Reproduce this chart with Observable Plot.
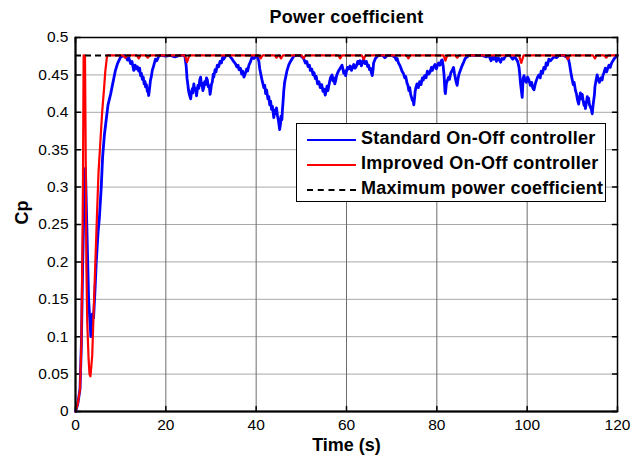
<!DOCTYPE html>
<html>
<head>
<meta charset="utf-8">
<script src="https://cdn.jsdelivr.net/npm/d3@7"></script>
<script src="https://cdn.jsdelivr.net/npm/@observablehq/plot@0.6"></script>
<style>
  html, body { margin: 0; padding: 0; background: #fff; }
  #wrap { position: relative; width: 643px; height: 463px; font-family: "Liberation Sans", Arial, sans-serif; }
  #legend { position: absolute; left: 296px; top: 123px; width: 308px; height: 77px; border: 1.5px solid #000; background: #fff; }
  .row { position: absolute; left: 0; height: 25px; width: 100%; }
  .sw { position: absolute; left: 10px; width: 49px; top: 12px; height: 0; }
  .lab { position: absolute; left: 64px; top: 1px; font-weight: bold; font-size: 18px; letter-spacing: 0.25px; line-height: 21px; white-space: nowrap; color: #000; }
</style>
</head>
<body>
<div id="wrap"></div>
<script>
const title = "Power coefficient";
const xLabel = "Time (s)";
const yLabel = "Cp";
const seriesNames = ["Standard On-Off controller", "Improved On-Off controller", "Maximum power coefficient"];
const seriesColors = ["#0000ff", "#ff0000", "#000000"];

const xTicks = [0, 20, 40, 60, 80, 100, 120];
const xTickLabels = ["0", "20", "40", "60", "80", "100", "120"];
const yTicks = [0, 0.05, 0.1, 0.15, 0.2, 0.25, 0.3, 0.35, 0.4, 0.45, 0.5];
const yTickLabels = ["0", "0.05", "0.1", "0.15", "0.2", "0.25", "0.3", "0.35", "0.4", "0.45", "0.5"];

const maxCp = 0.476;

// Standard On-Off controller: [time (s), Cp]
const standardSeries = [
  [0, 0], [0.5, 0.01], [1.0, 0.03], [1.3, 0.09], [1.6, 0.2], [1.9, 0.28], [2.2, 0.325], [2.5, 0.25], [2.7, 0.2], [2.9, 0.15],
  [3.2, 0.12], [3.4, 0.1], [3.7, 0.13], [4.0, 0.125], [4.3, 0.16], [4.6, 0.2], [5.0, 0.24], [5.3, 0.26], [5.7, 0.3], [6.0, 0.34],
  [6.4, 0.37], [6.8, 0.39], [7.2, 0.41], [7.8, 0.425], [8.3, 0.44], [8.8, 0.455], [9.3, 0.465], [10, 0.474],
  [10.8, 0.476], [11.2, 0.474], [11.5, 0.47], [11.8, 0.473], [12.2, 0.465], [12.5, 0.468], [12.9, 0.456], [13.2, 0.463], [13.4, 0.458],
  [13.7, 0.461], [14.0, 0.455], [14.2, 0.459], [14.4, 0.449], [14.6, 0.452], [14.8, 0.444], [15.0, 0.447], [15.2, 0.438], [15.4, 0.441],
  [15.5, 0.434], [15.7, 0.437], [15.9, 0.428], [16.0, 0.432], [16.2, 0.4225], [16.4, 0.432], [16.6, 0.443], [16.8, 0.448], [17.0, 0.456],
  [17.3, 0.462], [17.7, 0.471], [18.0, 0.469], [18.5, 0.476],
  [19, 0.476], [20, 0.475], [21, 0.476], [22, 0.474], [23, 0.476], [24.2, 0.476],
  [24.5, 0.462], [24.7, 0.445], [24.9, 0.436], [25.0, 0.43], [25.2, 0.424], [25.5, 0.418], [25.7, 0.428], [25.9, 0.432], [26.0, 0.426],
  [26.2, 0.438], [26.4, 0.43], [26.6, 0.432], [26.8, 0.422], [26.9, 0.427], [27.1, 0.436], [27.3, 0.432], [27.5, 0.443], [27.7, 0.447],
  [27.9, 0.436], [28.0, 0.439], [28.2, 0.429], [28.4, 0.433], [28.6, 0.441], [28.8, 0.437], [29.0, 0.446], [29.2, 0.443], [29.4, 0.434],
  [29.6, 0.436], [29.8, 0.424], [29.9, 0.428], [30.1, 0.437], [30.3, 0.441], [30.5, 0.451], [30.6, 0.447], [30.9, 0.457], [31.1, 0.454],
  [31.4, 0.463], [31.7, 0.461], [32.0, 0.468], [32.3, 0.466], [32.6, 0.474], [32.8, 0.471], [33.3, 0.476], [34, 0.476],
  [34.7, 0.471], [35.0, 0.468], [35.4, 0.465], [35.7, 0.461], [36.0, 0.463], [36.2, 0.457], [36.5, 0.459], [36.8, 0.451], [37.0, 0.455],
  [37.3, 0.447], [37.6, 0.452], [37.9, 0.458], [38.1, 0.455], [38.4, 0.463], [38.7, 0.467], [39.1, 0.474], [39.5, 0.472], [40.2, 0.476],
  [40.6, 0.468], [40.8, 0.458], [41.0, 0.452], [41.3, 0.443], [41.5, 0.438], [41.7, 0.433], [41.9, 0.436], [42.1, 0.425], [42.3, 0.43],
  [42.6, 0.418], [42.8, 0.421], [43.0, 0.41], [43.2, 0.415], [43.4, 0.404], [43.6, 0.408], [43.9, 0.393], [44.1, 0.403], [44.3, 0.398],
  [44.5, 0.406], [44.7, 0.396], [44.9, 0.39], [45.0, 0.386], [45.2, 0.377], [45.4, 0.385], [45.5, 0.395], [45.7, 0.39], [45.8, 0.402],
  [46.0, 0.418], [46.1, 0.428], [46.3, 0.44], [46.5, 0.446], [46.8, 0.455], [47.2, 0.463], [47.6, 0.468], [48.0, 0.472], [48.3, 0.475],
  [49.0, 0.476], [49.8, 0.476],
  [50.5, 0.472], [50.9, 0.466], [51.2, 0.468], [51.5, 0.461], [51.8, 0.463], [52.0, 0.456], [52.3, 0.458], [52.6, 0.45], [52.8, 0.453],
  [53.1, 0.445], [53.3, 0.448], [53.6, 0.438], [53.9, 0.441], [54.2, 0.433], [54.5, 0.437], [54.8, 0.428], [55.0, 0.431], [55.3, 0.423],
  [55.5, 0.429], [55.7, 0.435], [55.9, 0.429], [56.1, 0.436], [56.3, 0.442], [56.5, 0.447], [56.8, 0.45], [57.0, 0.442], [57.2, 0.446],
  [57.4, 0.438], [57.6, 0.442], [57.8, 0.449], [58.0, 0.452], [58.3, 0.456], [58.6, 0.459], [59.0, 0.463], [59.2, 0.458], [59.4, 0.452],
  [59.6, 0.455], [59.8, 0.449], [60.0, 0.455], [60.2, 0.46], [60.5, 0.458], [60.8, 0.462], [61.1, 0.456], [61.4, 0.461], [61.6, 0.464],
  [61.9, 0.459], [62.2, 0.462], [62.5, 0.468], [62.7, 0.465], [63.0, 0.469], [63.3, 0.462], [63.6, 0.468], [63.8, 0.471], [64.1, 0.465],
  [64.4, 0.468], [64.7, 0.461], [64.9, 0.463], [65.1, 0.457], [65.3, 0.459], [65.5, 0.453], [65.7, 0.449], [65.9, 0.458], [66.0, 0.466],
  [66.2, 0.469], [66.4, 0.472], [66.7, 0.474], [67.1, 0.476], [68.0, 0.476], [68.5, 0.473], [69, 0.476], [70.1, 0.476],
  [70.7, 0.474], [71.0, 0.47], [71.2, 0.472], [71.5, 0.466], [71.8, 0.463], [72.0, 0.46], [72.3, 0.455], [72.6, 0.452], [72.9, 0.446],
  [73.1, 0.448], [73.4, 0.439], [73.6, 0.436], [73.8, 0.429], [74.0, 0.433], [74.2, 0.424], [74.4, 0.42], [74.6, 0.416], [74.8, 0.414],
  [74.9, 0.41], [75.1, 0.421], [75.2, 0.428], [75.4, 0.434], [75.6, 0.438], [75.9, 0.433], [76.2, 0.441], [76.5, 0.437], [76.8, 0.446],
  [77.0, 0.443], [77.3, 0.449], [77.6, 0.446], [77.9, 0.455], [78.2, 0.451], [78.5, 0.454], [78.8, 0.46], [79.0, 0.456], [79.3, 0.461],
  [79.6, 0.464], [79.9, 0.458], [80.1, 0.462], [80.4, 0.466], [80.7, 0.463], [81.0, 0.469], [81.2, 0.47], [81.4, 0.462], [81.6, 0.45],
  [81.8, 0.428], [81.9, 0.425], [82.1, 0.438], [82.3, 0.442], [82.6, 0.447], [82.8, 0.444], [83.1, 0.453], [83.4, 0.456], [83.7, 0.46],
  [83.9, 0.452], [84.1, 0.446], [84.3, 0.44], [84.5, 0.436], [84.7, 0.445], [84.9, 0.451], [85.2, 0.456], [85.5, 0.461], [85.8, 0.465],
  [86.0, 0.468], [86.3, 0.472], [86.7, 0.474], [87.1, 0.476],
  [88, 0.476], [90, 0.476], [91, 0.474], [91.5, 0.476], [92, 0.469], [92.3, 0.474], [92.6, 0.471], [92.9, 0.475], [93.2, 0.468],
  [93.6, 0.473], [94.1, 0.467], [94.4, 0.472], [94.8, 0.471], [95.2, 0.475], [95.6, 0.476], [96.2, 0.476], [96.8, 0.471], [97.2, 0.474],
  [97.5, 0.472], [97.9, 0.468], [98.2, 0.46],
  [98.4, 0.448], [98.5, 0.44], [98.7, 0.43], [98.9, 0.42], [99.0, 0.432], [99.1, 0.445], [99.3, 0.449], [99.5, 0.443], [99.8, 0.44],
  [100.1, 0.447], [100.4, 0.443], [100.7, 0.436], [101.0, 0.44], [101.2, 0.433], [101.5, 0.43], [101.8, 0.438], [102.0, 0.442], [102.3, 0.447],
  [102.6, 0.45], [102.9, 0.446], [103.1, 0.455], [103.4, 0.452], [103.7, 0.46], [104.0, 0.458], [104.2, 0.466], [104.5, 0.463], [104.8, 0.471],
  [105.2, 0.469], [105.9, 0.474], [106.5, 0.473], [107, 0.476], [108.1, 0.476],
  [108.7, 0.474], [109.2, 0.47], [109.4, 0.464], [109.6, 0.456], [109.8, 0.449], [110.0, 0.443], [110.2, 0.437], [110.4, 0.44], [110.7, 0.429],
  [110.9, 0.425], [111.1, 0.418], [111.3, 0.413], [111.4, 0.411], [111.6, 0.42], [111.8, 0.426], [112.0, 0.418], [112.2, 0.424], [112.4, 0.415],
  [112.6, 0.409], [112.8, 0.413], [112.9, 0.405], [113.1, 0.412], [113.3, 0.421], [113.5, 0.414], [113.6, 0.419], [113.8, 0.41], [114.0, 0.407],
  [114.2, 0.404], [114.4, 0.398], [114.6, 0.41], [114.9, 0.424], [115.0, 0.434], [115.2, 0.441], [115.5, 0.45], [115.7, 0.444], [116.0, 0.44],
  [116.3, 0.446], [116.6, 0.443], [116.8, 0.45], [117.0, 0.453], [117.3, 0.459], [117.6, 0.454], [117.8, 0.458], [118.1, 0.463], [118.4, 0.46],
  [118.7, 0.466], [119.0, 0.469], [119.3, 0.472], [119.6, 0.474], [120, 0.476]
];

// Improved On-Off controller: [time (s), Cp]
const improvedSeries = [
  [0, 0], [0.5, 0.01], [1.0, 0.03], [1.3, 0.09], [1.5, 0.2], [1.65, 0.3], [1.8, 0.476], [2.1, 0.476], [2.25, 0.35], [2.4, 0.2],
  [2.6, 0.12], [2.9, 0.07], [3.1, 0.05], [3.3, 0.047], [3.5, 0.06], [3.7, 0.075], [4.0, 0.13], [4.4, 0.2], [4.8, 0.27], [5.1, 0.32],
  [5.5, 0.36], [5.9, 0.4], [6.3, 0.43], [6.6, 0.455], [7.0, 0.476], [10.6, 0.476], [11.0, 0.473], [11.4, 0.476], [13.6, 0.476], [14.0, 0.472],
  [14.4, 0.476], [15.6, 0.476], [16.0, 0.473], [16.4, 0.476], [24.2, 0.476], [24.7, 0.467], [25.2, 0.476], [40.6, 0.476], [41.0, 0.472], [41.4, 0.476],
  [44.1, 0.476], [44.5, 0.473], [44.9, 0.476], [45.1, 0.476], [45.5, 0.472], [45.9, 0.476], [50.1, 0.476], [50.5, 0.472], [50.9, 0.476], [58.2, 0.476],
  [58.6, 0.472], [59.0, 0.476], [63.4, 0.476], [63.8, 0.471], [64.2, 0.476], [73.3, 0.476], [73.7, 0.472], [74.1, 0.476], [81.5, 0.476], [81.9, 0.469],
  [82.3, 0.476], [84.1, 0.476], [84.5, 0.473], [84.9, 0.476], [98.2, 0.476], [98.7, 0.466], [99.2, 0.476], [108.6, 0.476], [109.0, 0.471], [109.4, 0.476],
  [114.6, 0.476], [115.0, 0.472], [115.4, 0.476], [117.1, 0.476], [117.5, 0.473], [117.9, 0.476], [120, 0.476]
];

const blue = standardSeries.map(([t, cp]) => ({t, cp}));
const red = improvedSeries.map(([t, cp]) => ({t, cp}));

const font = "'Liberation Sans', Arial, sans-serif";
const tickStyle = {stroke: "#000", shape: "spike", r: 0.001, fill: "#000", length: 5, anchor: "start"};

const chart = Plot.plot({
  width: 643,
  height: 463,
  marginLeft: 75,
  marginRight: 26,
  marginTop: 37,
  marginBottom: 52,
  style: {fontFamily: font, fontSize: "15.5px", color: "#000", background: "#fff"},
  x: {domain: [0, 120], ticks: xTicks},
  y: {domain: [0, 0.5], ticks: yTicks},
  marks: [
    Plot.gridY(yTicks, {stroke: "#a8a8a8", strokeOpacity: 1, strokeWidth: 1}),
    Plot.gridX(xTicks, {stroke: "#6e6e6e", strokeOpacity: 1, strokeWidth: 1}),
    Plot.vector(yTicks, {y: d => d, frameAnchor: "left", rotate: 90, ...tickStyle}),
    Plot.vector(yTicks, {y: d => d, frameAnchor: "right", rotate: -90, ...tickStyle}),
    Plot.vector(xTicks, {x: d => d, frameAnchor: "bottom", rotate: 0, ...tickStyle}),
    Plot.vector(xTicks, {x: d => d, frameAnchor: "top", rotate: 180, ...tickStyle}),
    Plot.line(blue, {x: "t", y: "cp", stroke: seriesColors[0], strokeWidth: 2.8, strokeLinejoin: "round"}),
    Plot.line(red, {x: "t", y: "cp", stroke: seriesColors[1], strokeWidth: 2.2, strokeLinejoin: "round"}),
    Plot.ruleY([maxCp], {stroke: seriesColors[2], strokeWidth: 2, strokeDasharray: "6,4"}),
    Plot.frame({stroke: "#000", strokeWidth: 1.5}),
    Plot.ruleY([0], {stroke: "#000", strokeWidth: 2}),
    Plot.ruleX([0], {stroke: "#000", strokeWidth: 2}),
    Plot.axisX(xTicks, {tickSize: 0, tickPadding: 7, tickFormat: d => xTickLabels[xTicks.indexOf(d)], label: null}),
    Plot.axisY(yTicks, {tickSize: 0, tickPadding: 7, tickFormat: d => yTickLabels[yTicks.indexOf(d)], label: null}),
    Plot.text([title], {frameAnchor: "top", lineAnchor: "middle", dy: -20, fontWeight: "bold", fontSize: 18, fill: "#000", style: {letterSpacing: "0.3px"}}),
    Plot.text([xLabel], {frameAnchor: "bottom", lineAnchor: "middle", dy: 34, fontWeight: "bold", fontSize: 18, fill: "#000"}),
    Plot.text([yLabel], {frameAnchor: "left", lineAnchor: "middle", dx: -53, rotate: -90, fontWeight: "bold", fontSize: 18, fill: "#000"})
  ]
});

const wrap = document.getElementById("wrap");
wrap.appendChild(chart);
chart.querySelectorAll("text").forEach(t => {
  if (t.textContent === title) t.setAttribute("letter-spacing", "0.3");
});

const legend = document.createElement("div");
legend.id = "legend";
seriesNames.forEach((name, i) => {
  const row = document.createElement("div");
  row.className = "row";
  row.style.top = (3 + i * 25) + "px";
  const sw = document.createElement("div");
  sw.className = "sw";
  sw.style.borderTop = (i === 2 ? "2px dashed " : "2.5px solid ") + seriesColors[i];
  const lab = document.createElement("div");
  lab.className = "lab";
  lab.textContent = name;
  row.appendChild(sw);
  row.appendChild(lab);
  legend.appendChild(row);
});
wrap.appendChild(legend);
</script>
</body>
</html>
